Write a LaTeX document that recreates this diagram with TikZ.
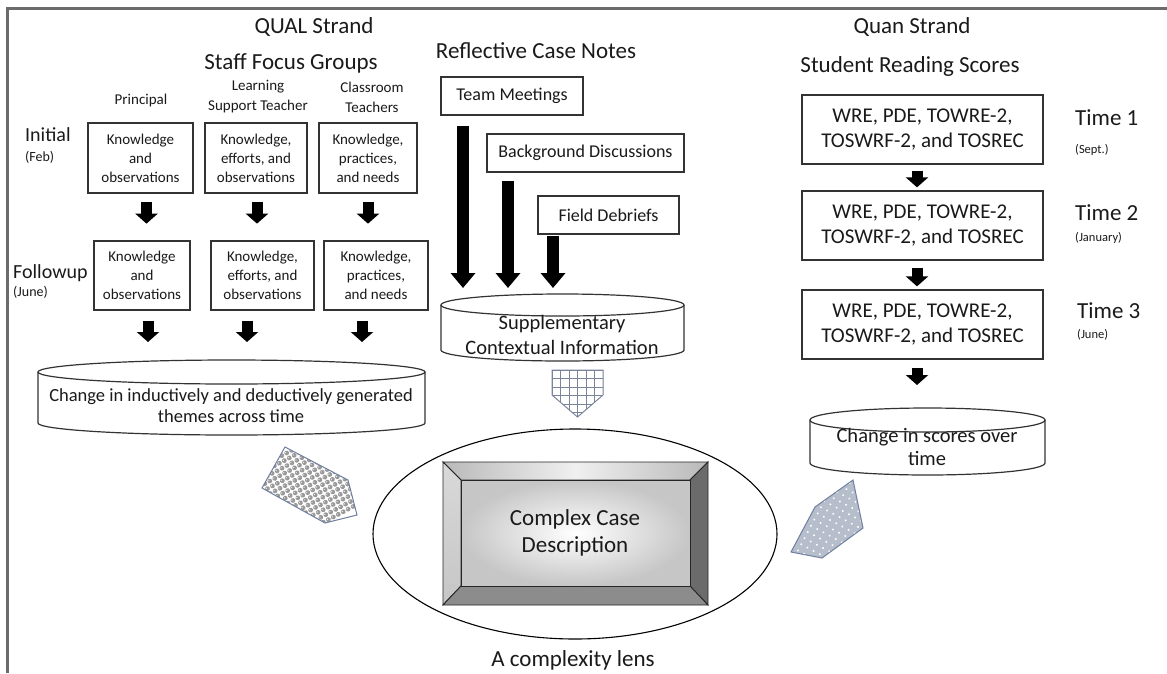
\documentclass[tikz,border=0pt]{standalone}
\usepackage{fontspec}
\setmainfont{Carlito}
\usetikzlibrary{arrows.meta,shapes.geometric,calc}
\definecolor{framec}{HTML}{6B6B6B}
\definecolor{boxc}{HTML}{333333}
\definecolor{txtc}{HTML}{1A1A1A}
\definecolor{pentc}{HTML}{7080A0}
\definecolor{gridc}{HTML}{7A849A}
\definecolor{dotbg}{HTML}{B6BECC}
\newcommand{\fsz}[2]{\fontsize{#1}{#2}\selectfont}
\newcommand{\cylpath}[5]{%
  \path[fill=white] (#1,#3) -- (#1,#4) arc[start angle=180,end angle=0,x radius={(#2-#1)/2},y radius=#5] -- (#2,#3) -- cycle;
  \draw[cyl] (#1,#3) -- (#1,#4) arc[start angle=180,end angle=0,x radius={(#2-#1)/2},y radius=#5] -- (#2,#3);
  \draw[cyl] ({(#1+#2)/2},#3) ellipse[x radius={(#2-#1)/2},y radius=#5];}
\tikzset{
  bx/.style={draw=boxc, line width=1.3pt, fill=white, inner sep=0pt, align=center, text=txtc},
  lbl/.style={inner sep=0pt, align=center, text=txtc},
  sarrow/.style={line width=11pt, -{Triangle[width=22pt,length=10pt]}},
  larrow/.style={line width=12pt, -{Triangle[width=24pt,length=15pt]}},
  cyl/.style={draw=boxc, line width=1.2pt},
}
\begin{document}
\begin{tikzpicture}[x=1pt,y=-1pt]
\useasboundingbox (0,0) rectangle (1167,673);
\fill[white] (0,0) rectangle (1167,673);
\draw[framec, line width=2.5pt] (1167,8.5) -- (7.5,8.5) -- (7.5,673);

% ---------- QUAL strand ----------
\node[lbl, font=\fsz{23}{27}] (qual) at (314,27) {QUAL Strand};
\node[lbl, font=\fsz{23}{27}] (sfg) at (291,63) {Staff Focus Groups};
\node[lbl, font=\fsz{15}{20}] (pr) at (141,100) {Principal};
\node[lbl, font=\fsz{15}{20}] (lst) at (258,97) {Learning\\Support Teacher};
\node[lbl, font=\fsz{15}{20}] (ct) at (372,97) {Classroom\\Teachers};
\node[lbl, anchor=west, font=\fsz{20}{24}] (ini) at (25,135) {Initial};
\node[lbl, anchor=west, font=\fsz{14}{17}] (feb) at (25,157) {(Feb)};
\node[lbl, anchor=west, font=\fsz{20}{24}] (fol) at (13,273) {Followup};
\node[lbl, anchor=west, font=\fsz{14}{17}] (jun1) at (13,292) {(June)};

\node[bx, font=\fsz{15}{19}, minimum width=105pt, minimum height=70pt] (b1) at (140.5,158) {Knowledge\\and\\observations};
\node[bx, font=\fsz{15}{19}, minimum width=102pt, minimum height=70pt] (b2) at (256,158) {Knowledge,\\efforts, and\\observations};
\node[bx, font=\fsz{15}{19}, minimum width=98pt, minimum height=70pt] (b3) at (368,158) {Knowledge,\\practices,\\and needs};
\node[bx, font=\fsz{15}{19}, minimum width=96pt, minimum height=69pt] (f1) at (142,275.5) {Knowledge\\and\\observations};
\node[bx, font=\fsz{15}{19}, minimum width=103pt, minimum height=69pt] (f2) at (262.5,275.5) {Knowledge,\\efforts, and\\observations};
\node[bx, font=\fsz{15}{19}, minimum width=104pt, minimum height=69pt] (f3) at (376,275.5) {Knowledge,\\practices,\\and needs};

\draw[sarrow] ($(b1.south)+(6,8)$) -- ($(b1.south)+(6,30)$);
\draw[sarrow] ($(b2.south)+(1,8)$) -- ($(b2.south)+(1,30)$);
\draw[sarrow] ($(b3.south)+(0,8)$) -- ($(b3.south)+(0,30)$);

\cylpath{38}{425}{372}{423}{12}
\node[lbl, font=\fsz{18.5}{21}] (themes) at (231,405.5) {Change in inductively and deductively generated\\themes across time};
\coordinate (t1) at (148,342);
\coordinate (t2) at (247,342);
\coordinate (t3) at (362,342);
\draw[sarrow] (f1.south -| t1) ++(0,10) -- (t1);
\draw[sarrow] (f2.south -| t2) ++(0,10) -- (t2);
\draw[sarrow] (f3.south -| t3) ++(0,10) -- (t3);

% ---------- Reflective case notes ----------
\node[lbl, font=\fsz{23}{27}] (rcn) at (536,51) {Reflective Case Notes};
\node[bx, font=\fsz{18}{22}, minimum width=142pt, minimum height=38pt] (tm) at (512,96) {Team Meetings};
\node[bx, font=\fsz{18}{22}, minimum width=197pt, minimum height=38pt] (bd) at (585.5,153) {Background Discussions};
\node[bx, font=\fsz{18}{22}, minimum width=141pt, minimum height=38pt] (fd) at (608.5,215) {Field Debriefs};

\cylpath{441}{684}{305}{350}{11}
\node[lbl, font=\fsz{20.5}{25}] (sci) at (562,334.5) {Supplementary\\Contextual Information};
\coordinate (s1) at (463,288);
\coordinate (s2) at (508,288);
\coordinate (s3) at (553,288);
\draw[larrow] (tm.south -| s1) ++(0,10) -- (s1);
\draw[larrow] (bd.south -| s2) ++(0,8) -- (s2);
\draw[larrow] (fd.south -| s3) ++(0,1) -- (s3);

% grid pentagon
\begin{scope}
  \path[clip] (552,370) -- (603,370) -- (603,395) -- (577.5,417) -- (552,395) -- cycle;
  \fill[white] (540,360) rectangle (615,420);
  \foreach \k in {0,...,6}{
    \draw[gridc, line width=0.9pt] (552+\k*8.5,365) -- (552+\k*8.5,420);
    \draw[gridc, line width=0.9pt] (545,370+\k*8.5) -- (610,370+\k*8.5);}
\end{scope}
\draw[gridc, line width=1pt] (552,370) -- (603,370) -- (603,395) -- (577.5,417) -- (552,395) -- cycle;

% ---------- Quan strand ----------
\node[lbl, font=\fsz{23}{27}] (quan) at (912,27) {Quan Strand};
\node[lbl, font=\fsz{23}{27}] (srs) at (910,66) {Student Reading Scores};
\node[bx, font=\fsz{21}{25}, minimum width=241pt, minimum height=69pt] (q1) at (922.5,129.5) {WRE, PDE, TOWRE-2,\\TOSWRF-2, and TOSREC};
\node[bx, font=\fsz{21}{25}, minimum width=241pt, minimum height=69pt] (q2) at (922.5,225.5) {WRE, PDE, TOWRE-2,\\TOSWRF-2, and TOSREC};
\node[bx, font=\fsz{21}{25}, minimum width=241pt, minimum height=69pt] (q3) at (922.5,324.5) {WRE, PDE, TOWRE-2,\\TOSWRF-2, and TOSREC};
\node[lbl, anchor=west, font=\fsz{23}{27}] (tm1) at (1075,118) {Time 1};
\node[lbl, anchor=west, font=\fsz{12.5}{15}] (sep) at (1075,150) {(Sept.)};
\node[lbl, anchor=west, font=\fsz{23}{27}] (tm2) at (1075,213) {Time 2};
\node[lbl, anchor=west, font=\fsz{12.5}{15}] (jan) at (1075,238) {(January)};
\node[lbl, anchor=west, font=\fsz{23}{27}] (tm3) at (1077,311) {Time 3};
\node[lbl, anchor=west, font=\fsz{12.5}{15}] (jun2) at (1077,335) {(June)};

\cylpath{810}{1045}{420}{463}{12}
\node[lbl, font=\fsz{20.5}{23}] (cso) at (927,446.5) {Change in scores over\\time};
\coordinate (c1) at (917,385);
\draw[sarrow] ($(q1.south)+(-5.5,6)$) -- ($(q2.north)+(-5.5,-3)$);
\draw[sarrow] ($(q2.south)+(-5.5,7)$) -- ($(q3.north)+(-5.5,-3)$);
\draw[sarrow] (q3.south -| c1) ++(0,8) -- (c1);

% ---------- Lens ----------
\node[draw=black, line width=1.1pt, ellipse, minimum width=404pt, minimum height=210pt, inner sep=0pt] (lens) at (575,534) {};
\node[lbl, font=\fsz{23}{27}] (lenslbl) at (573,660) {A complexity lens};

% bevel box
\begin{scope}[draw=black!85, line width=0.9pt]
  \shade[left color=gray!55, right color=gray!55, middle color=gray!12, draw] (443,462) -- (708,462) -- (690,480) -- (461,480) -- cycle;
  \shade[top color=gray!30, bottom color=gray!45, draw] (443,462) -- (461,480) -- (461,586) -- (443,605) -- cycle;
  \filldraw[fill=black!58] (708,462) -- (690,480) -- (690,586) -- (708,605) -- cycle;
  \filldraw[fill=black!45] (443,605) -- (461,586) -- (690,586) -- (708,605) -- cycle;
  \shade[inner color=white, outer color=gray!45, draw] (461,480) rectangle (690,586);
\end{scope}
\node[lbl, font=\fsz{23}{27}] (ccd) at (575,533) {Complex Case\\Description};

% dotted pentagons
\begin{scope}
  \path[clip] (262,488) -- (285,447) -- (348,480) -- (357,515) -- (325,523) -- cycle;
  \fill[white] (250,440) rectangle (365,530);
  \begin{scope}[shift={(310,485)}, rotate=28]
    \foreach \i in {-10,...,10}{\foreach \j in {-7,...,7}{
      \fill[gray!80] (\i*5.6,\j*5.6) circle[radius=2.4];
      \fill[gray!15] (\i*5.6-0.7,\j*5.6-0.7) circle[radius=0.7];}}
  \end{scope}
\end{scope}
\draw[pentc, line width=1pt] (262,488) -- (285,447) -- (348,480) -- (357,515) -- (325,523) -- cycle;

\begin{scope}
  \path[clip] (791,552) -- (815,507) -- (853,480) -- (863,528) -- (822,558) -- cycle;
  \fill[dotbg] (780,470) rectangle (890,565);
  \begin{scope}[shift={(830,520)}, rotate=-28]
    \foreach \i in {-9,...,9}{\foreach \j in {-7,...,7}{
      \fill[white] (\i*7,\j*7) circle[radius=1.1];}}
  \end{scope}
\end{scope}
\draw[pentc, line width=1pt] (791,552) -- (815,507) -- (853,480) -- (863,528) -- (822,558) -- cycle;
\end{tikzpicture}
\end{document}
